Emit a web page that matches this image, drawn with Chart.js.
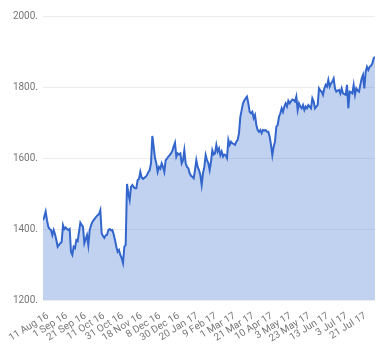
<!DOCTYPE html>
<html>
<head>
<meta charset="utf-8">
<script src="https://cdn.jsdelivr.net/npm/chart.js@4.4.0/dist/chart.umd.min.js"></script>
<style>
  body { margin: 0; background: #fff; }
</style>
</head>
<body>
<canvas id="priceChart" width="380" height="360"></canvas>
<script>
// daily closes, one per trading day from 11 Aug 16
var closes = [
    1425, 1435, 1449, 1425, 1406, 1400, 1397, 1383, 1397, 1385,
    1369, 1350, 1355, 1360, 1364, 1411, 1400, 1404, 1400, 1397,
    1400, 1335, 1327, 1350, 1346, 1369, 1366, 1392, 1418, 1412,
    1406, 1360, 1372, 1383, 1355, 1397, 1410, 1420, 1425, 1430,
    1435, 1439, 1442, 1453, 1388, 1380, 1375, 1382, 1383, 1397,
    1400, 1396, 1397, 1385, 1369, 1350, 1336, 1341, 1327, 1318,
    1304, 1350, 1355, 1527, 1500, 1482, 1519, 1524, 1518, 1515,
    1515, 1538, 1541, 1561, 1545, 1541, 1544, 1547, 1552, 1560,
    1566, 1585, 1662, 1632, 1600, 1585, 1561, 1575, 1570, 1585,
    1575, 1561, 1594, 1598, 1604, 1608, 1613, 1620, 1632, 1643,
    1604, 1613, 1610, 1613, 1585, 1594, 1622, 1585, 1575, 1571,
    1557, 1550, 1547, 1543, 1566, 1594, 1575, 1566, 1552, 1524,
    1557, 1575, 1608, 1594, 1585, 1566, 1590, 1622, 1610, 1613,
    1637, 1618, 1627, 1608, 1618, 1604, 1610, 1608, 1600, 1651,
    1637, 1646, 1641, 1640, 1637, 1646, 1651, 1670, 1716, 1735,
    1754, 1762, 1768, 1773, 1754, 1730, 1726, 1730, 1712, 1721,
    1693, 1679, 1674, 1679, 1670, 1679, 1677, 1679, 1674, 1674,
    1660, 1637, 1608, 1632, 1646, 1688, 1693, 1716, 1726, 1740,
    1730, 1745, 1754, 1745, 1761, 1754, 1760, 1765, 1763, 1759,
    1773, 1735, 1754, 1745, 1740, 1749, 1735, 1745, 1740, 1749,
    1745, 1740, 1768, 1759, 1740, 1745, 1749, 1796, 1790, 1787,
    1778, 1796, 1806, 1801, 1820, 1801, 1810, 1815, 1824, 1796,
    1787, 1790, 1792, 1782, 1796, 1782, 1780, 1778, 1806, 1740,
    1787, 1785, 1782, 1806, 1778, 1796, 1790, 1787, 1806, 1824,
    1834, 1796, 1843, 1857, 1848, 1857, 1860, 1866, 1881, 1885
]
// a date label every 14 trading days
var tickStep = 14
var tickLabels = ['11 Aug 16', '1 Sep 16', '21 Sep 16', '11 Oct 16', '31 Oct 16',
    '18 Nov 16', '8 Dec 16', '30 Dec 16', '20 Jan 17', '9 Feb 17', '1 Mar 17',
    '21 Mar 17', '10 Apr 17', '3 May 17', '23 May 17', '13 Jun 17', '3 Jul 17', '21 Jul 17']
var yTicks = [1200, 1400, 1600, 1800, 2000]

var points = closes.map(function (v, i) { return { x: i, y: v } })
var tickFont = { family: 'Roboto', size: 10 }

var ctx = document.getElementById('priceChart')
var chart = new Chart(ctx, {
    type: 'line',
    data: {
        datasets: [{
            data: points,
            borderColor: '#3366cc',
            backgroundColor: 'rgba(51, 102, 204, 0.3)',
            borderWidth: 2,
            fill: 'origin',
            pointRadius: 0,
            tension: 0
        }]
    },
    options: {
        responsive: false,
        animation: false,
        layout: { padding: { top: 16, right: 5, left: 0, bottom: 0 } },
        plugins: { legend: { display: false }, tooltip: { enabled: false } },
        scales: {
            x: {
                type: 'linear',
                min: 0,
                max: closes.length - 1,
                grid: { display: false },
                border: { display: false },
                afterBuildTicks: function (axis) {
                    axis.ticks = tickLabels.map(function (_, i) { return { value: i * tickStep } })
                },
                afterFit: function (axis) { axis.height = 60 },
                ticks: {
                    autoSkip: false,
                    minRotation: 32,
                    maxRotation: 32,
                    color: '#777',
                    font: tickFont,
                    padding: 2,
                    labelOffset: 5,
                    callback: function (v) { return tickLabels[Math.round(v / tickStep)] }
                }
            },
            y: {
                min: yTicks[0],
                max: yTicks[yTicks.length - 1],
                afterBuildTicks: function (axis) {
                    axis.ticks = yTicks.map(function (v) { return { value: v } })
                },
                afterFit: function (axis) { axis.width = 43 },
                grid: { color: '#ececec', drawTicks: false },
                border: { display: false },
                ticks: {
                    color: '#777',
                    font: tickFont,
                    padding: 5,
                    callback: function (v) { return v + '.' }
                }
            }
        }
    }
})
</script>
</body>
</html>
